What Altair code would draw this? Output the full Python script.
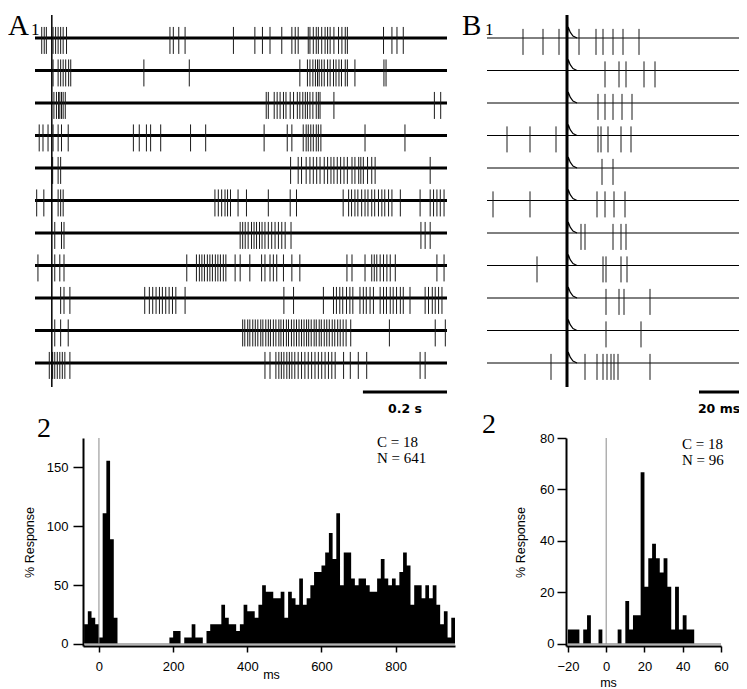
import altair as alt
import pandas as pd

# ---------------- data ----------------
# A1: spike times (ms) on each of the 11 sweeps (0.2 s scale)
A_SPIKES = [
    [-24, -18, -13, 3, 9, 15, 21, 27, 35, 281, 289, 302, 317, 432, 483, 501, 519, 547, 571, 579, 586,
     610, 614, 622, 629, 634, 642, 650, 656, 662, 671, 682, 690, 698, 703, 789, 809, 821, 836],
    [3, 15, 21, 27, 33, 40, 45, 219, 327, 590, 608, 614, 621, 627, 632, 636, 642, 648, 656, 662, 670,
     676, 683, 689, 698, 703, 721, 790, 795],
    [5, 11, 16, 19, 23, 27, 32, 510, 515, 529, 536, 543, 551, 557, 567, 575, 584, 590, 597, 603, 608,
     614, 621, 629, 634, 638, 671, 910, 925],
    [-30, -21, -9, 3, 15, 23, 39, 194, 208, 225, 235, 259, 330, 366, 505, 560, 571, 598, 605, 610, 616,
     622, 629, 634, 640, 745, 840],
    [2, 15, 21, 568, 586, 594, 605, 614, 622, 630, 638, 648, 656, 664, 671, 679, 687, 695, 703, 714,
     721, 730, 735, 741, 751, 761, 769, 900],
    [-36, -19, 15, 21, 27, 388, 396, 404, 412, 418, 425, 443, 463, 515, 567, 582, 693, 706, 713, 721,
     728, 737, 745, 752, 761, 768, 777, 785, 792, 801, 809, 829, 876, 900, 908, 916, 924, 933],
    [7, 23, 29, 448, 454, 460, 467, 475, 481, 487, 494, 500, 507, 515, 523, 531, 539, 547, 555, 569,
     878, 888, 900],
    [-33, 7, 19, 29, 321, 344, 351, 357, 363, 370, 376, 382, 389, 395, 401, 408, 414, 436, 448, 471,
     499, 507, 519, 527, 535, 551, 571, 590, 702, 714, 745, 761, 767, 773, 781, 789, 797, 805, 817,
     916, 933],
    [21, 29, 43, 221, 232, 240, 248, 256, 263, 271, 279, 287, 295, 317, 552, 575, 646, 670, 677, 685,
     692, 701, 709, 716, 733, 741, 748, 757, 765, 781, 789, 796, 805, 812, 820, 829, 836, 852, 888,
     896, 905, 912, 920, 928],
    [7, 21, 39, 454, 459, 466, 471, 478, 484, 490, 497, 502, 509, 515, 520, 527, 533, 540, 545, 551,
     558, 563, 570, 576, 582, 588, 594, 600, 606, 611, 617, 624, 629, 636, 641, 648, 654, 660, 667,
     673, 680, 686, 693, 700, 711, 803, 912, 936],
    [-6, 2, 7, 13, 19, 25, 31, 43, 507, 519, 533, 540, 546, 552, 559, 565, 571, 578, 586, 594, 602,
     610, 618, 626, 634, 642, 650, 658, 666, 674, 694, 710, 729, 749, 876, 888],
]

# B1: spike times (ms) on each of the 11 sweeps (20 ms scale)
B_SPIKES = [
    [-22, -12, -4, 6, 14.5, 18, 23, 28, 36],
    [19, 26, 29.5, 38.5, 44],
    [15.5, 19, 23, 27.5, 32.5],
    [-30, -18.5, -5.5, 15.5, 17, 20.5, 27, 32],
    [17.5, 23],
    [-37, -18.5, 15, 19, 23.5, 29],
    [7, 9, 23, 27, 29.5],
    [-15, 18, 19.5, 27, 30],
    [19.5, 26, 28.5, 41.5],
    [19.5, 37],
    [-8, 9, 15, 18, 20, 22, 23.5, 25.5, 41.5],
]

# stimulus artefact after-hump seen on every B sweep (time ms, relative height)
HUMP_T = [0, 0.6, 1.6, 3.0, 5.0]
HUMP_A = [0, 0.34, 0.18, 0.06, 0]

# A2 histogram: % response, 10-ms bins starting at -40 ms
A2_START, A2_BIN = -40, 10
A2_PCT = [16.7, 27.8, 22.2, 16.7, 5.6, 111.1, 155.6, 88.9, 22.2,
          0, 0, 0, 0, 0, 0, 0, 0, 0, 0, 0, 0, 0, 0,
          5.6,
          11.1, 11.1, 0, 5.6, 5.6, 16.7, 5.6, 5.6, 0, 11.1,
          16.7, 16.7, 16.7, 33.3, 22.2, 16.7, 16.7, 11.1, 16.7, 33.3,
          27.8, 27.8, 22.2, 33.3, 50.0, 44.4, 44.4, 38.9, 38.9, 44.4,
          22.2, 44.4, 38.9, 33.3, 55.6, 33.3, 38.9, 50.0, 61.1, 61.1,
          66.7, 77.8, 94.4, 72.2, 111.1, 50.0, 77.8, 77.8, 55.6, 50.0,
          55.6, 55.6, 50.0, 44.4, 44.4, 55.6, 72.2, 55.6, 50.0, 55.6,
          50.0, 61.1, 77.8, 66.7, 33.3, 50.0, 50.0, 38.9, 50.0, 38.9,
          50.0, 33.3, 16.7, 27.8, 5.6, 22.2]

# B2 histogram: % response, 2-ms bins starting at -20 ms
B2_START, B2_BIN = -20, 2
B2_PCT = [5.6, 5.6, 5.6, 0, 5.6, 11.1, 0, 0, 5.6, 0, 0, 0, 0, 5.6, 0, 16.7, 5.6, 11.1, 11.1,
          66.7, 22.2, 33.3, 38.9, 33.3, 27.8, 33.3, 22.2, 5.6, 22.2, 5.6, 11.1, 5.6, 5.6]

A_SPAN = [-40, 940]
B_SPAN = [-40, 86]
A_BAR = [740, 940]
B_BAR = [66, 86]
A2_XTICKS = [0, 200, 400, 600, 800]
A2_YTICKS = [0, 50, 100, 150]
B2_XTICKS = [-20, 0, 20, 40, 60]
B2_YTICKS = [0, 20, 40, 60, 80]
A_TEXT = ["C = 18", "N = 641"]
B_TEXT = ["C = 18", "N = 96"]

# ---------------- styling / layout ----------------
W, H = 731, 681
SERIF = "Liberation Serif"
SANS = "Liberation Sans"
A_UP, A_DN = 0.34, 0.49
B_UP, B_DN = 0.28, 0.52


def S(domain, rng):
    return alt.Scale(domain=domain, range=rng, nice=False, zero=False)


xA = S([-40, 940], [27, 439])
yA = S([0, 10], [30, 355])
xB = S([-40, 86], [479, 731])
yB = S([0, 10], [30, 355])
xA2 = S([-43, 960], [75, 447])
yA2 = S([-1.7, 175], [638, 430])
xB2 = S([-21, 60], [558, 713])
yB2 = S([-0.8, 80], [638, 430])


def label(text, x, y, size, font=SERIF, weight="normal", align="left"):
    return alt.Chart(pd.DataFrame({"s": [text]})).mark_text(
        align=align, baseline="alphabetic", font=font, fontSize=size,
        fontWeight=weight, color="black").encode(
        text="s:N", x=alt.value(x), y=alt.value(y))


def spike_rows(spikes):
    return pd.DataFrame([{"trace": i, "t": t} for i, ts in enumerate(spikes) for t in ts])


def traces(spikes, span, bar, xs, ys, up, dn, base_w, stim_w, bar_text, hump=False):
    n = len(spikes)
    base = alt.Chart(pd.DataFrame({"trace": list(range(n)), "t0": span[0], "t1": span[1]})).mark_rule(
        color="black", strokeWidth=base_w).encode(
        x=alt.X("t0:Q", scale=xs, axis=None), x2="t1:Q",
        y=alt.Y("trace:Q", scale=ys, axis=None))
    spk = alt.Chart(spike_rows(spikes)).transform_calculate(
        ya=f"datum.trace - {up}", yb=f"datum.trace + {dn}").mark_rule(
        color="#1a1a1a", strokeWidth=1).encode(
        x=alt.X("t:Q", scale=xs, axis=None),
        y=alt.Y("ya:Q", scale=ys, axis=None), y2="yb:Q")
    stim = alt.Chart(pd.DataFrame({"t": [0]})).mark_rule(color="black", strokeWidth=stim_w).encode(
        x=alt.X("t:Q", scale=xs, axis=None), y=alt.value(7), y2=alt.value(379))
    sbar = alt.Chart(pd.DataFrame({"t0": [bar[0]], "t1": [bar[1]]})).mark_rule(
        color="black", strokeWidth=3).encode(
        x=alt.X("t0:Q", scale=xs, axis=None), x2="t1:Q", y=alt.value(384))
    stext = alt.Chart(pd.DataFrame({"t": [(bar[0] + bar[1]) / 2], "s": [bar_text]})).mark_text(
        align="center", baseline="alphabetic", font="DejaVu Sans", fontWeight="bold",
        fontSize=12.5, color="black").encode(
        x=alt.X("t:Q", scale=xs, axis=None), y=alt.value(405), text="s:N")
    layers = [base, spk, stim, sbar, stext]
    if hump:
        hd = pd.DataFrame([{"trace": i, "t": t, "a": a} for i in range(n)
                           for t, a in zip(HUMP_T, HUMP_A)])
        layers.append(alt.Chart(hd).transform_calculate(yy="datum.trace - datum.a").mark_line(
            color="black", strokeWidth=1.2).encode(
            x=alt.X("t:Q", scale=xs, axis=None), y=alt.Y("yy:Q", scale=ys, axis=None),
            detail="trace:N"))
    return layers


def hist(pct, start, binw, xs, ys, xticks, yticks, yoff, ytick, ylpad, ytx, mtx, mty, zero_top, xend):
    n = len(pct)
    df = pd.DataFrame({"ms": [start + binw * i for i in range(n)] + [start + binw * n],
                       "pct": pct + [pct[-1]]})
    common = dict(domainColor="black", domainWidth=2, tickColor="black", tickWidth=1.5,
                  labelFont=SANS, labelFontSize=13, labelColor="black", labelFlush=False,
                  labelOverlap=False, titleFont=SANS, titleFontSize=12.5, titleFontWeight="normal",
                  titleColor="black", grid=False)
    area = alt.Chart(df).mark_area(interpolate="step-after", color="black").encode(
        x=alt.X("ms:Q", scale=xs, axis=alt.Axis(
            orient="bottom", offset=638 - H, values=xticks, title="ms", tickSize=6, labelPadding=8,
            titleX=mtx, titleY=mty, titleBaseline="alphabetic", titleAlign="center", **common)),
        y=alt.Y("pct:Q", scale=ys, stack=None, axis=alt.Axis(
            orient="left", offset=-yoff, values=yticks, title="% Response", tickSize=ytick,
            labelPadding=ylpad, titleX=ytx, titleBaseline="middle", **common)))
    # helper layers leave the axis unspecified so the explicit axis above is the one kept
    zline = alt.Chart(pd.DataFrame({"ms": [0], "lo": [0], "hi": [zero_top]})).mark_rule(
        color="#8a8a8a", strokeWidth=1).encode(
        x=alt.X("ms:Q", scale=xs), y=alt.Y("lo:Q", scale=ys), y2="hi:Q")
    base = alt.Chart(pd.DataFrame({"ms": [start], "b": [xend], "pct": [0]})).mark_rule(
        color="#9a9a9a", strokeWidth=1.5).encode(
        x=alt.X("ms:Q", scale=xs), x2="b:Q", y=alt.Y("pct:Q", scale=ys))
    return [area, base, zline]


A1 = alt.layer(*traces(A_SPIKES, A_SPAN, A_BAR, xA, yA, A_UP, A_DN, 2.8, 1.5, "0.2 s"),
               label("A", 0, 27, 29), label("1", 23, 27, 17))
B1 = alt.layer(*traces(B_SPIKES, B_SPAN, B_BAR, xB, yB, B_UP, B_DN, 1.0, 3, "20 ms", hump=True),
               label("B", 454, 27, 29), label("1", 477, 27, 17))
A2 = alt.layer(*hist(A2_PCT, A2_START, A2_BIN, xA2, yA2, A2_XTICKS, A2_YTICKS, 75, 10, 5, -54,
                     263, 32, 175, 960),
               label("2", 29, 429, 28),
               label(A_TEXT[0], 369, 439, 15), label(A_TEXT[1], 369, 455, 15))
B2 = alt.layer(*hist(B2_PCT, B2_START, B2_BIN, xB2, yB2, B2_XTICKS, B2_YTICKS, 558, 9, 3, -46,
                     600, 40, 80, 60),
               label("2", 474, 425, 28),
               label(B_TEXT[0], 674, 441, 15), label(B_TEXT[1], 674, 457, 15))

chart = alt.layer(A1, B1, A2, B2).resolve_scale(x="independent", y="independent").properties(
    width=W, height=H, padding=0, autosize=alt.AutoSizeParams(type="none")
).configure_view(stroke=None)

chart.save("out.html", embed_options={"renderer": "svg", "actions": False})
